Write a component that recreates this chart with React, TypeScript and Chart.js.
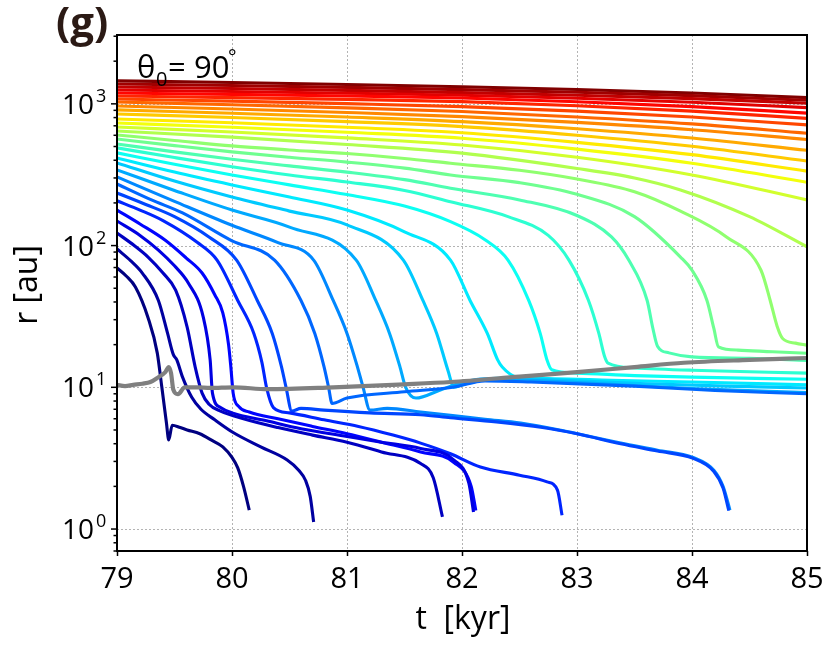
import React, { useEffect, useRef } from 'react';
import { Chart, registerables } from 'chart.js';
Chart.register(...registerables);

type P = [number, number];

const xTickValues = [79, 80, 81, 82, 83, 84, 85];
const yDecades = [1, 10, 100, 1000];
const yExponents = ['0', '1', '2', '3'];

const line01: P[] = [[79.0, 69.5], [79.08, 61], [79.16, 51], [79.27, 31], [79.35, 17.5], [79.39, 10], [79.43, 5.6], [79.45, 4.25], [79.48, 5.4], [79.55, 5.2], [79.61, 5.0], [79.72, 4.7], [79.83, 4.2], [79.92, 3.8], [80.0, 3.2], [80.05, 2.7], [80.1, 2.0], [80.15, 1.36]];
const line02: P[] = [[79.0, 94.6], [79.12, 78], [79.22, 64], [79.36, 41], [79.44, 24], [79.49, 17], [79.52, 15.6], [79.57, 11.8], [79.65, 8.5], [79.73, 7.0], [79.85, 5.9], [80.01, 4.8], [80.25, 3.8], [80.48, 3.07], [80.58, 2.6], [80.64, 2.2], [80.68, 1.7], [80.71, 1.12]];
const line03: P[] = [[79.0, 122.7], [79.15, 100], [79.27, 83], [79.4, 64], [79.51, 48.5], [79.61, 26.6], [79.68, 13.9], [79.74, 9.1], [79.8, 7.6], [79.9, 6.8], [80.1, 6.0], [80.4, 5.2], [80.7, 4.6], [81.0, 4.1], [81.3, 3.5], [81.64, 2.9], [81.75, 2.3], [81.83, 1.22]];
const line04: P[] = [[79.0, 149], [79.2, 118], [79.36, 93], [79.5, 72], [79.62, 54.5], [79.75, 31.3], [79.81, 15.6], [79.83, 9.1], [79.9, 7.2], [80.0, 6.6], [80.3, 5.8], [80.6, 5.1], [81.0, 4.5], [81.3, 4.1], [81.64, 3.7], [81.93, 3.07], [82.06, 2.1], [82.1, 1.32]];
const line05: P[] = [[79.0, 178], [79.2, 142], [79.42, 109], [79.6, 82], [79.74, 64], [79.85, 45], [79.92, 33.5], [79.97, 20], [79.99, 13.9], [80.01, 9.1], [80.06, 7.3], [80.15, 6.7], [80.4, 6.0], [80.7, 5.3], [81.0, 4.7], [81.3, 4.1], [81.64, 3.5], [81.93, 2.95], [82.08, 2.0], [82.12, 1.35]];
const line06: P[] = [[79.0, 207], [79.2, 178], [79.4, 150], [79.7, 105], [79.87, 79], [80.05, 41], [80.19, 24], [80.26, 15], [80.3, 10], [80.36, 7.2], [80.5, 6.6], [80.8, 5.9], [81.1, 5.3], [81.4, 4.6], [81.64, 4.04], [81.9, 3.4], [82.16, 2.74], [82.5, 2.4], [82.74, 2.15], [82.83, 1.88], [82.87, 1.25]];
const line07: P[] = [[79.0, 235], [79.25, 195], [79.5, 160], [79.8, 115], [80.04, 79], [80.22, 41], [80.35, 24], [80.43, 14], [80.47, 10], [80.52, 6.8], [80.6, 7.1], [80.8, 6.9], [81.2, 6.6], [81.64, 6.4], [81.9, 6.1], [82.3, 5.7], [82.7, 5.2], [83.0, 4.7], [83.38, 4.0], [83.7, 3.55], [84.01, 3.15], [84.19, 2.55], [84.27, 1.95], [84.32, 1.35]];
const line08: P[] = [[79.0, 272], [79.3, 210], [79.57, 170], [80.0, 108], [80.37, 79], [80.6, 41], [80.72, 24], [80.8, 14], [80.84, 10], [80.87, 7.7], [81.0, 8.4], [81.5, 9.3], [81.92, 10.0], [82.2, 11.1], [82.6, 10.9], [83.5, 10.2], [84.2, 9.5], [85.0, 9.0]];
const line09: P[] = [[79.0, 305], [79.5, 205], [80.0, 139], [80.4, 105], [80.71, 79], [80.88, 41], [81.0, 24], [81.09, 14], [81.14, 10], [81.2, 6.9], [81.35, 7.1], [81.64, 6.7], [81.9, 6.35], [82.2, 5.95], [82.51, 5.6], [82.9, 4.9], [83.38, 4.04], [83.7, 3.6], [84.01, 3.2], [84.19, 2.6], [84.27, 2.0], [84.33, 1.36]];
const line10: P[] = [[79.0, 342], [79.5, 245], [80.0, 178], [80.5, 135], [81.08, 79], [81.25, 41], [81.37, 24], [81.46, 14], [81.51, 10], [81.6, 8.4], [81.8, 9.5], [81.98, 10.7], [82.2, 11.5], [82.6, 11.2], [83.3, 10.5], [84.0, 9.8], [85.0, 9.2]];
const line11: P[] = [[79.0, 383], [79.5, 285], [80.0, 220], [80.5, 175], [81.0, 140], [81.49, 79], [81.66, 41], [81.78, 24], [81.88, 13], [81.93, 10], [82.0, 10.4], [82.3, 11.6], [82.8, 11.3], [83.6, 10.6], [84.3, 10.2], [85.0, 9.9]];
const line12: P[] = [[79.0, 415], [79.5, 330], [80.0, 268], [80.5, 220], [81.0, 178], [81.5, 125], [81.9, 79], [82.07, 41], [82.22, 24], [82.31, 15.6], [82.35, 13.9], [82.48, 11.8], [82.8, 11.5], [83.3, 11.2], [84.0, 10.9], [85.0, 10.4]];
const line13: P[] = [[79.0, 451], [79.5, 375], [80.0, 315], [80.5, 268], [81.0, 229], [81.5, 190], [81.9, 147.5], [82.2, 110], [82.4, 79], [82.58, 41], [82.68, 24], [82.74, 15.5], [82.78, 13.3], [83.0, 12.6], [83.5, 12.1], [84.0, 11.8], [85.0, 11.4]];
const line14: P[] = [[79.0, 489], [79.5, 418], [80.0, 360], [80.5, 315], [81.0, 281], [81.5, 245], [81.9, 204], [82.4, 160], [82.75, 118], [82.93, 79], [83.1, 41], [83.19, 24], [83.24, 16.5], [83.27, 14.8], [83.5, 13.7], [84.0, 13.2], [85.0, 12.6]];
const line15: P[] = [[79.0, 521], [79.5, 458], [80.0, 406], [80.5, 365], [81.0, 330], [81.5, 292], [81.9, 254], [82.5, 210], [83.0, 163], [83.3, 115], [83.45, 79], [83.61, 41], [83.66, 26], [83.7, 19.5], [83.8, 17.5], [84.0, 16.4], [84.5, 16.0], [85.0, 15.5]];
const line16: P[] = [[79.0, 565], [79.5, 507], [80.0, 458], [80.5, 420], [81.0, 388], [81.5, 352], [81.9, 315], [82.5, 278], [83.0, 230], [83.5, 160], [83.9, 83], [84.0, 67], [84.13, 41], [84.19, 26], [84.23, 19.3], [84.4, 18.3], [84.7, 17.8], [85.0, 17.4]];
const line17: P[] = [[79.0, 603], [79.5, 552], [80.0, 505], [80.5, 473], [81.0, 446], [81.5, 412], [81.9, 381], [82.5, 340], [83.0, 295], [83.5, 240], [83.9, 175], [84.3, 115], [84.6, 67], [84.68, 41], [84.74, 27], [84.79, 22], [84.9, 20.5], [85.0, 19.8]];
const line18: P[] = [[79.0, 644], [80.0, 582], [81.0, 517], [82.0, 449], [83.0, 350], [83.5, 300], [83.9, 247], [84.5, 160], [85.0, 98]];
const line19: P[] = [[79.0, 687], [80.0, 633], [81.0, 575], [82.0, 513], [83.0, 420], [84.0, 315], [85.0, 210]];
const line20: P[] = [[79.0, 733], [80.0, 684], [81.0, 630], [82.0, 572], [83.0, 479], [84.0, 381], [85.0, 280]];
const line21: P[] = [[79.0, 782], [80.0, 735], [81.0, 683], [82.0, 626], [83.0, 535], [84.0, 438], [85.0, 335]];
const line22: P[] = [[79.0, 848], [80.0, 801], [81.0, 749], [82.0, 691], [83.0, 601], [84.0, 502], [85.0, 395]];
const line23: P[] = [[79.0, 906], [80.0, 859], [81.0, 807], [82.0, 749], [83.0, 667], [84.0, 574], [85.0, 470]];
const line24: P[] = [[79.0, 966], [80.0, 920], [81.0, 869], [82.0, 812], [83.0, 740], [84.0, 657], [85.0, 560]];
const line25: P[] = [[79.0, 1030], [80.0, 986], [81.0, 937], [82.0, 882], [83.0, 808], [84.0, 722], [85.0, 620]];
const line26: P[] = [[79.0, 1082], [80.0, 1045], [81.0, 1003], [82.0, 956], [83.0, 888], [84.0, 807], [85.0, 710]];
const line27: P[] = [[79.0, 1136], [80.0, 1107], [81.0, 1075], [82.0, 1037], [83.0, 969], [84.0, 888], [85.0, 790]];
const line28: P[] = [[79.0, 1193], [80.0, 1166], [81.0, 1136], [82.0, 1100], [83.0, 1034], [84.0, 956], [85.0, 860]];
const line29: P[] = [[79.0, 1253], [80.0, 1223], [81.0, 1189], [82.0, 1150], [83.0, 1094], [84.0, 1025], [85.0, 940]];
const line30: P[] = [[79.0, 1315], [80.0, 1282], [81.0, 1244], [82.0, 1200], [83.0, 1149], [84.0, 1088], [85.0, 1010]];
const line31: P[] = [[79.0, 1381], [80.0, 1346], [81.0, 1306], [82.0, 1260], [83.0, 1207], [84.0, 1142], [85.0, 1060]];
const line32: P[] = [[79.0, 1452], [80.0, 1414], [81.0, 1370], [82.0, 1320], [83.0, 1263], [84.0, 1194], [85.0, 1107]];

const grayLine: P[] = [[79.0, 10.4], [79.07, 10.2], [79.14, 10.4], [79.22, 10.6], [79.29, 10.9], [79.36, 11.8], [79.42, 12.8], [79.45, 13.9], [79.47, 12.6], [79.49, 9.6], [79.53, 8.95], [79.59, 10.0], [79.7, 10.0], [79.81, 9.9], [80.01, 10.0], [80.31, 9.7], [80.88, 10.0], [81.5, 10.5], [81.9, 10.9], [82.5, 11.9], [83.0, 12.8], [83.5, 13.9], [83.93, 14.9], [84.5, 15.6], [85.0, 16.1]];

const colorLines: P[][] = [line01, line02, line03, line04, line05, line06, line07, line08, line09, line10, line11, line12, line13, line14, line15, line16, line17, line18, line19, line20, line21, line22, line23, line24, line25, line26, line27, line28, line29, line30, line31, line32];

function jet(v: number): string {
  const c = (x: number) => Math.max(0, Math.min(1, x));
  const r = c(1.5 - Math.abs(4 * v - 3));
  const g = c(1.5 - Math.abs(4 * v - 2));
  const b = c(1.5 - Math.abs(4 * v - 1));
  return `rgb(${Math.round(r * 255)},${Math.round(g * 255)},${Math.round(b * 255)})`;
}

const FONT = '"Open Sans", "Noto Sans", sans-serif';

const decorPlugin = {
  id: 'decor',
  beforeDatasetsDraw(chart: any) {
    const { ctx, chartArea: a, scales } = chart;
    const xs = scales.x, ys = scales.y;
    ctx.save();
    ctx.strokeStyle = '#b4b4b4';
    ctx.lineWidth = 1;
    ctx.setLineDash([2, 2]);
    for (const v of xTickValues) {
      const px = Math.round(xs.getPixelForValue(v)) + 0.5;
      if (px <= a.left + 2 || px >= a.right - 2) continue;
      ctx.beginPath(); ctx.moveTo(px, a.top); ctx.lineTo(px, a.bottom); ctx.stroke();
    }
    for (const v of yDecades) {
      const py = Math.round(ys.getPixelForValue(v)) + 0.5;
      ctx.beginPath(); ctx.moveTo(a.left, py); ctx.lineTo(a.right, py); ctx.stroke();
    }
    ctx.restore();
  },
  afterDatasetsDraw(chart: any) {
    const { ctx, chartArea: a, scales } = chart;
    const ys = scales.y;
    ctx.save();
    ctx.strokeStyle = '#000';
    ctx.lineWidth = 2;
    ctx.setLineDash([]);
    ctx.strokeRect(a.left, a.top, a.right - a.left, a.bottom - a.top);
    ctx.lineWidth = 1.5;
    for (const d of [0.1, 1, 10, 100, 1000]) {
      for (let k = 1; k <= 9; k++) {
        const v = k * d;
        if (v < ys.min || v > ys.max) continue;
        const py = ys.getPixelForValue(v);
        const len = k === 1 ? 6 : 3.5;
        ctx.beginPath(); ctx.moveTo(a.left - len, py); ctx.lineTo(a.left, py); ctx.stroke();
      }
    }
    ctx.fillStyle = '#000';
    yDecades.forEach((v, i) => {
      const py = ys.getPixelForValue(v);
      ctx.font = `28px ${FONT}`;
      ctx.textAlign = 'right';
      ctx.textBaseline = 'alphabetic';
      ctx.fillText('10', 94, py + 10);
      ctx.font = `18px ${FONT}`;
      ctx.textAlign = 'left';
      ctx.fillText(yExponents[i], 96, py - 2);
    });
    ctx.fillStyle = '#2b1a15';
    ctx.font = `bold 42px ${FONT}`;
    ctx.textAlign = 'left';
    ctx.fillText('(g)', 56, 37);
    ctx.fillStyle = '#000';
    ctx.font = `31px ${FONT}`;
    ctx.fillText('θ', 137, 78);
    ctx.font = `20px ${FONT}`;
    ctx.fillText('0', 156, 86);
    ctx.font = `31px ${FONT}`;
    ctx.fillText('=', 168, 78);
    ctx.fillText('90', 194, 78);
    ctx.font = `20px ${FONT}`;
    ctx.fillText('°', 228, 64);
    ctx.font = `32px ${FONT}`;
    ctx.textAlign = 'center';
    ctx.textBaseline = 'middle';
    ctx.fillText('t  [kyr]', 463, 620);
    ctx.save();
    ctx.translate(28, 285);
    ctx.rotate(-Math.PI / 2);
    ctx.fillText('r [au]', 0, 0);
    ctx.restore();
    ctx.restore();
  },
};

export default function App() {
  const ref = useRef<HTMLCanvasElement | null>(null);
  useEffect(() => {
    if (!ref.current) return;
    const datasets: any[] = [
      {
        data: grayLine.map(([x, y]) => ({ x, y })),
        borderColor: '#808080',
        borderWidth: 4.2,
        pointRadius: 0,
        borderCapStyle: 'round',
        borderJoinStyle: 'round',
        cubicInterpolationMode: 'monotone',
      },
      ...colorLines.map((ln, i) => ({
        data: ln.map(([x, y]) => ({ x, y })),
        borderColor: jet(i / (colorLines.length - 1)),
        borderWidth: 3.1,
        pointRadius: 0,
        borderCapStyle: 'butt',
        borderJoinStyle: 'round',
        cubicInterpolationMode: 'monotone',
      })),
    ];
    const chart = new Chart(ref.current, {
      type: 'line',
      data: { datasets },
      plugins: [decorPlugin],
      options: {
        animation: false,
        responsive: true,
        maintainAspectRatio: false,
        events: [],
        layout: { padding: { top: 35, right: 24, left: 0, bottom: 0 } },
        plugins: { legend: { display: false }, tooltip: { enabled: false } },
        scales: {
          x: {
            type: 'linear',
            min: 79,
            max: 85,
            afterFit: (s: any) => { s.height = 98; },
            afterBuildTicks: (s: any) => { s.ticks = xTickValues.map((v) => ({ value: v })); },
            ticks: {
              color: '#000',
              font: { family: FONT, size: 29 },
              padding: 6,
              maxRotation: 0,
              callback: (v: any) => String(v),
            },
            grid: { display: true, drawOnChartArea: false, drawTicks: true, tickLength: 5, tickColor: '#000', tickWidth: 1.5 },
            border: { display: false },
          },
          y: {
            type: 'logarithmic',
            min: 0.7,
            max: 3060,
            afterFit: (s: any) => { s.width = 117; },
            ticks: { display: false },
            grid: { display: false },
            border: { display: false },
          },
        },
      } as any,
    });
    return () => chart.destroy();
  }, []);
  return (
    <div style={{ position: 'absolute', left: 0, top: 0, width: 831, height: 649, background: '#fff' }}>
      <canvas ref={ref} />
    </div>
  );
}
